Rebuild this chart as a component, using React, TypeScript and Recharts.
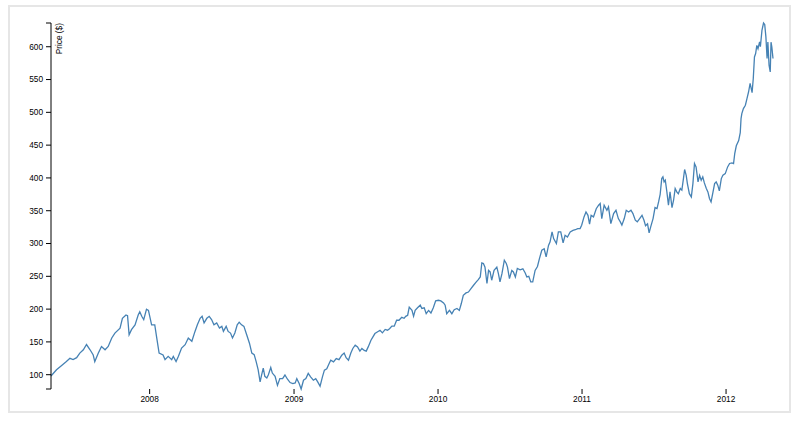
import React from 'react';
import { LineChart, Line, XAxis, YAxis } from 'recharts';

const dates: string[] = [
  '2007-04-26','2007-05-10','2007-05-23','2007-06-04','2007-06-13','2007-06-21','2007-06-30','2007-07-08','2007-07-17','2007-07-25',
  '2007-08-03','2007-08-11','2007-08-15','2007-08-24','2007-09-01','2007-09-10','2007-09-18','2007-09-27','2007-10-05','2007-10-18',
  '2007-10-24','2007-11-02','2007-11-06','2007-11-10','2007-11-16','2007-11-25','2007-12-03','2007-12-07','2007-12-12','2007-12-17',
  '2007-12-24','2007-12-29','2008-01-06','2008-01-14','2008-01-19','2008-01-25','2008-02-04','2008-02-09','2008-02-17','2008-02-26',
  '2008-03-01','2008-03-08','2008-03-14','2008-03-22','2008-03-31','2008-04-08','2008-04-17','2008-04-25','2008-05-01','2008-05-08',
  '2008-05-13','2008-05-18','2008-05-25','2008-05-31','2008-06-06','2008-06-12','2008-06-19','2008-06-26','2008-07-02','2008-07-06',
  '2008-07-13','2008-07-18','2008-07-24','2008-07-29','2008-08-04','2008-08-10','2008-08-15','2008-08-21','2008-08-27','2008-09-03',
  '2008-09-10','2008-09-16','2008-09-22','2008-09-27','2008-10-02','2008-10-07','2008-10-11','2008-10-15','2008-10-19','2008-10-24',
  '2008-10-28','2008-11-03','2008-11-07','2008-11-14','2008-11-20','2008-11-26','2008-12-03','2008-12-09','2008-12-15','2008-12-22',
  '2008-12-29','2009-01-04','2009-01-08','2009-01-14','2009-01-19','2009-01-25','2009-01-31','2009-02-06','2009-02-12','2009-02-19',
  '2009-02-25','2009-03-02','2009-03-08','2009-03-14','2009-03-19','2009-03-25','2009-03-31','2009-04-04','2009-04-11','2009-04-18',
  '2009-04-25','2009-05-02','2009-05-08','2009-05-13','2009-05-19','2009-05-25','2009-05-30','2009-06-05','2009-06-11','2009-06-17',
  '2009-06-22','2009-06-28','2009-07-03','2009-07-08','2009-07-15','2009-07-20','2009-07-25','2009-07-31','2009-08-07','2009-08-13',
  '2009-08-20','2009-08-26','2009-08-31','2009-09-06','2009-09-12','2009-09-18','2009-09-24','2009-10-01','2009-10-07','2009-10-11',
  '2009-10-16','2009-10-20','2009-10-27','2009-10-31','2009-11-04','2009-11-10','2009-11-17','2009-11-21','2009-11-27','2009-12-02',
  '2009-12-08','2009-12-14','2009-12-20','2009-12-26','2010-01-02','2010-01-08','2010-01-15','2010-01-19','2010-01-23','2010-01-30',
  '2010-02-05','2010-02-11','2010-02-18','2010-02-24','2010-03-01','2010-03-06','2010-03-13','2010-03-19','2010-03-25','2010-04-01',
  '2010-04-08','2010-04-13','2010-04-18','2010-04-22','2010-04-26','2010-04-30','2010-05-05','2010-05-09','2010-05-13','2010-05-17',
  '2010-05-23','2010-05-30','2010-06-03','2010-06-07','2010-06-12','2010-06-18','2010-06-23','2010-06-26','2010-07-01','2010-07-07',
  '2010-07-11','2010-07-16','2010-07-21','2010-07-28','2010-08-04','2010-08-10','2010-08-14','2010-08-19','2010-08-24','2010-08-29',
  '2010-09-04','2010-09-10','2010-09-15','2010-09-21','2010-09-27','2010-10-02','2010-10-08','2010-10-12','2010-10-17','2010-10-21',
  '2010-10-28','2010-11-02','2010-11-08','2010-11-14','2010-11-19','2010-11-25','2010-12-02','2010-12-09','2010-12-15','2010-12-21',
  '2010-12-27','2010-12-31','2011-01-06','2011-01-11','2011-01-16','2011-01-20','2011-01-24','2011-01-30','2011-02-06','2011-02-12',
  '2011-02-16','2011-02-20','2011-02-26','2011-03-05','2011-03-09','2011-03-15','2011-03-22','2011-03-28','2011-04-03','2011-04-08',
  '2011-04-12','2011-04-18','2011-04-23','2011-04-29','2011-05-05','2011-05-10','2011-05-16','2011-05-21','2011-05-27','2011-06-02',
  '2011-06-07','2011-06-11','2011-06-16','2011-06-20','2011-06-24','2011-06-30','2011-07-05','2011-07-10','2011-07-14','2011-07-18',
  '2011-07-22','2011-07-25','2011-07-28','2011-07-31','2011-08-04','2011-08-08','2011-08-12','2011-08-17','2011-08-21','2011-08-25',
  '2011-08-29','2011-09-02','2011-09-07','2011-09-11','2011-09-15','2011-09-18','2011-09-22','2011-09-25','2011-09-30','2011-10-05',
  '2011-10-09','2011-10-13','2011-10-17','2011-10-22','2011-10-26','2011-10-30','2011-11-03','2011-11-07','2011-11-12','2011-11-16',
  '2011-11-20','2011-11-24','2011-11-29','2011-12-03','2011-12-07','2011-12-11','2011-12-15','2011-12-20','2011-12-24','2011-12-30',
  '2012-01-05','2012-01-10','2012-01-16','2012-01-20','2012-01-23','2012-01-27','2012-02-02','2012-02-06','2012-02-08','2012-02-10',
  '2012-02-14','2012-02-19','2012-02-23','2012-02-27','2012-03-02','2012-03-07','2012-03-10','2012-03-13','2012-03-16','2012-03-19',
  '2012-03-22','2012-03-26','2012-03-28','2012-04-01','2012-04-05','2012-04-08','2012-04-11','2012-04-14','2012-04-16','2012-04-19',
  '2012-04-22','2012-04-24','2012-04-26','2012-04-29',
];

const prices: number[] = [
  98, 107.6, 114, 120, 125, 123, 126, 133, 138, 146,
  138, 130, 120, 133, 143, 138, 143, 156, 163.5, 171,
  186, 191, 190, 161, 168.6, 176, 191, 196, 189, 184,
  199.8, 198, 176, 176, 156, 133, 130, 123, 128, 123,
  128, 120, 128, 140.6, 145.7, 156, 151, 166, 176, 186,
  189, 179, 186, 189, 184, 176, 179, 171, 173.7, 166,
  173.7, 166, 163.5, 156, 163.5, 176, 180, 176, 173.7, 161,
  148, 133, 130.5, 120, 107.6, 89, 100, 110, 97.5, 95,
  100, 111, 102.5, 97.5, 83.7, 94, 94, 99.5, 93.5, 88,
  86.5, 87.5, 94, 86.5, 78.2, 91.6, 94, 102, 96.7, 91.6,
  94, 89, 82.5, 96.7, 107, 109, 117, 122, 119.5, 124.6,
  123, 129.7, 133, 126, 122, 133, 140, 145, 142.4, 136,
  140, 137, 136, 142.4, 152.6, 157.6, 162.7, 165, 167.8, 163.8,
  169, 167.8, 170, 174, 174, 183, 183, 187.5, 186, 189,
  190.7, 203, 198, 189, 198, 202, 206, 201, 202, 193,
  198, 194, 202, 212.5, 213.5, 212.5, 209.5, 206, 193, 198,
  193, 199, 201, 198, 208.5, 221, 224.7, 226, 231, 236.4,
  241.5, 245, 249, 270.5, 269.5, 264, 239, 259, 256.7, 244,
  259, 264, 254, 241.5, 254, 274.5, 269.5, 264, 246.6, 259,
  256.7, 249, 262, 260, 261.5, 255, 249, 250, 241.5, 241.5,
  259, 265, 277, 289.8, 292, 279.6, 297, 302.5, 317.7, 307.6,
  300, 317.7, 317.7, 301, 312.6, 310, 317.7, 320, 321, 322.8,
  322.8, 328, 340.6, 348, 343, 329.4, 343, 340.6, 353, 358.4,
  361, 338, 358.4, 350.7, 356, 330.4, 345.7, 350.7, 338, 333,
  328, 338, 350.7, 348, 350.7, 345.7, 335.5, 333, 338, 343,
  335.5, 327, 330, 316.2, 325.4, 338, 354.8, 353.3, 363.4, 375,
  399, 401.6, 394, 396.5, 378.7, 358.4, 378.7, 354.8, 366, 383.8,
  378.7, 376, 383.8, 381.3, 399, 412.8, 404, 391.4, 376, 371,
  391.4, 422, 416.8, 394, 404, 396.5, 401.6, 392.4, 383.8, 378.7,
  368.6, 363.4, 378.7, 391.4, 394, 389, 380.3, 399, 404, 406.6,
  416.8, 422, 423, 422, 437, 449, 457, 469, 490.5, 498,
  505.7, 510.8, 521, 531, 544, 530, 551.5, 584.5, 589.6, 602,
  597, 607.4, 600, 625, 636.2, 634, 615, 582, 607, 572,
  561.6, 607, 600, 582,
];

const tickYears: number[] = [2008, 2009, 2010, 2011, 2012];
const priceTicks: number[] = [100, 150, 200, 250, 300, 350, 400, 450, 500, 550, 600];

const data = dates.map((d, i) => ({ date: Date.parse(d), close: prices[i] }));
const xTicks = tickYears.map((y) => Date.UTC(y, 0, 1));
const yMin = Math.min(...prices);
const yMax = Math.max(...prices);
const yTicks = [yMin, ...priceTicks, yMax];

const FONT = '"Liberation Sans", Arial, Helvetica, sans-serif';
const tickStyle = { fontSize: 8.3, fill: '#000', fontFamily: FONT };

function PriceLabel(props: any) {
  const vb = props.viewBox || { x: 1, y: 23, width: 50 };
  const x = vb.x + vb.width + 11;
  const y = vb.y;
  return (
    <text
      x={0}
      y={0}
      transform={`translate(${x},${y}) rotate(-90)`}
      textAnchor="end"
      fontSize={8.3}
      fontFamily={FONT}
      fill="#000"
    >
      Price ($)
    </text>
  );
}

export default function App() {
  return (
    <div style={{ position: 'absolute', left: 0, top: 0, width: 800, height: 424, background: '#fff' }}>
      <div
        style={{
          position: 'absolute',
          left: 8,
          top: 5,
          width: 783,
          height: 408,
          border: '2px solid #e6e6e6',
          boxSizing: 'border-box',
        }}
      />
      <div style={{ position: 'absolute', left: 0, top: 0 }}>
        <LineChart width={800} height={424} data={data} margin={{ top: 23, right: 27, bottom: 5, left: 1 }}>
          <XAxis
            dataKey="date"
            type="number"
            scale="time"
            domain={['dataMin', 'dataMax']}
            ticks={xTicks}
            tickFormatter={(v: number) => String(new Date(v).getUTCFullYear())}
            axisLine={false}
            tickLine={{ stroke: '#000' }}
            tickSize={5}
            tickMargin={2}
            height={30}
            interval={0}
            tick={tickStyle}
          />
          <YAxis
            type="number"
            domain={['dataMin', 'dataMax']}
            ticks={yTicks}
            tickFormatter={(v: number) => (priceTicks.includes(v) ? String(v) : '')}
            width={50}
            axisLine={{ stroke: '#000' }}
            tickLine={{ stroke: '#000' }}
            tickSize={5}
            tickMargin={3}
            interval={0}
            tick={tickStyle}
            label={<PriceLabel />}
          />
          <Line
            type="linear"
            dataKey="close"
            stroke="#4682b4"
            strokeWidth={1.3}
            dot={false}
            activeDot={false}
            isAnimationActive={false}
          />
        </LineChart>
      </div>
    </div>
  );
}
